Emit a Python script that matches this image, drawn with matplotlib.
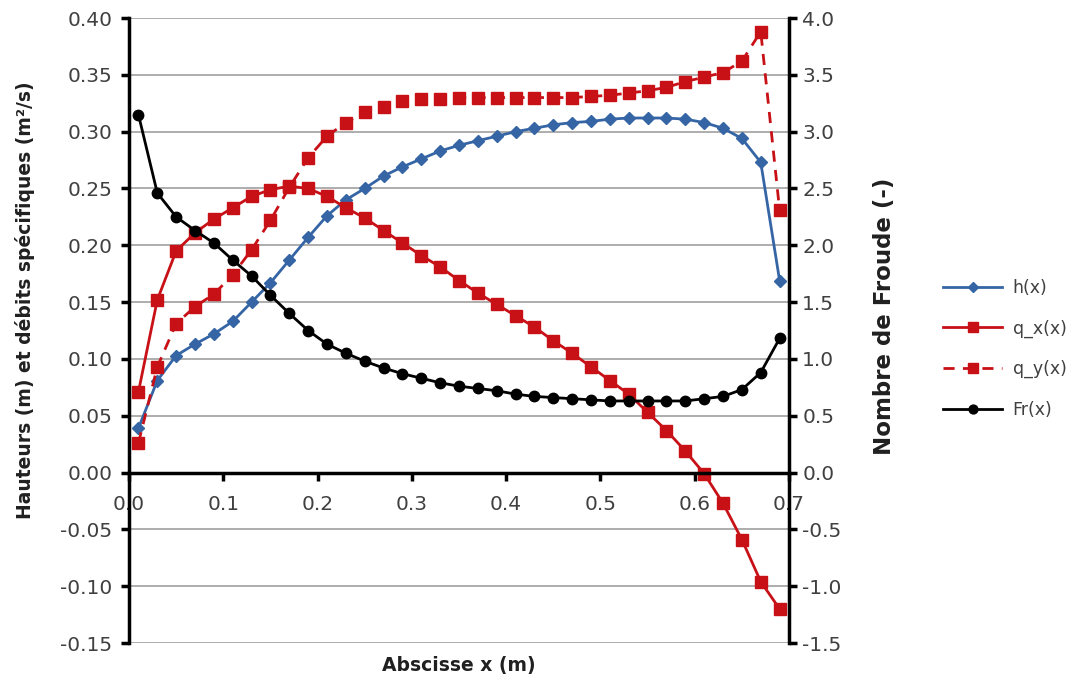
import matplotlib
matplotlib.use("Agg")
import matplotlib.pyplot as plt
import numpy as np

# abscissa of the computed points (m)
x = [0.01, 0.03, 0.05, 0.07, 0.09, 0.11, 0.13, 0.15, 0.17, 0.19, 0.21, 0.23,
     0.25, 0.27, 0.29, 0.31, 0.33, 0.35, 0.37, 0.39, 0.41, 0.43, 0.45, 0.47,
     0.49, 0.51, 0.53, 0.55, 0.57, 0.59, 0.61, 0.63, 0.65, 0.67, 0.69]

h = [0.039, 0.081, 0.103, 0.113, 0.122, 0.133, 0.150, 0.167, 0.187, 0.207,
     0.226, 0.240, 0.250, 0.261, 0.269, 0.276, 0.283, 0.288, 0.292, 0.296,
     0.300, 0.303, 0.306, 0.308, 0.309, 0.311, 0.312, 0.312, 0.312, 0.311,
     0.308, 0.303, 0.294, 0.273, 0.169]

q_x = [0.071, 0.152, 0.195, 0.211, 0.223, 0.233, 0.243, 0.249, 0.252, 0.250,
       0.243, 0.233, 0.224, 0.213, 0.202, 0.191, 0.181, 0.169, 0.158, 0.148,
       0.138, 0.128, 0.116, 0.105, 0.093, 0.081, 0.069, 0.053, 0.037, 0.019,
       -0.001, -0.027, -0.059, -0.096, -0.120]

q_y = [0.026, 0.093, 0.131, 0.146, 0.157, 0.174, 0.196, 0.222, 0.251, 0.277,
       0.296, 0.308, 0.317, 0.322, 0.327, 0.329, 0.329, 0.330, 0.330, 0.330,
       0.330, 0.330, 0.330, 0.330, 0.331, 0.332, 0.334, 0.336, 0.339, 0.344,
       0.348, 0.352, 0.362, 0.388, 0.231]

fr = [3.15, 2.46, 2.25, 2.13, 2.02, 1.87, 1.73, 1.56, 1.40, 1.25,
      1.13, 1.05, 0.98, 0.92, 0.87, 0.83, 0.79, 0.76, 0.74, 0.72,
      0.69, 0.67, 0.66, 0.65, 0.64, 0.63, 0.63, 0.63, 0.63, 0.63,
      0.65, 0.67, 0.73, 0.88, 1.18]

BLUE = "#3565a5"
RED = "#c81017"
TXT = "#404040"
plt.rcParams["font.family"] = ["DejaVu Sans"]

fig = plt.figure(figsize=(10.76, 6.8), dpi=100)
ax = fig.add_axes([0.1199, 0.0544, 0.6134, 0.9191])
ax2 = ax.twinx()

ax.plot(x, h, "-D", color=BLUE, lw=2, ms=6, label="h(x)")
ax.plot(x, q_x, "-s", color=RED, lw=2, ms=8, label="q_x(x)")
ax.plot(x, q_y, "--s", color=RED, lw=2, ms=8, dashes=(4, 3), label="q_y(x)")
ln_fr, = ax2.plot(x, fr, "-o", color="black", lw=2, ms=7.5, label="Fr(x)")

ax.set_xlim(0, 0.7)
ax.set_ylim(-0.15, 0.40)
ax2.set_ylim(-1.5, 4.0)
ax.set_xticks(np.arange(0, 0.71, 0.1))
ax.set_xticklabels([f"{v:.1f}" for v in np.arange(0, 0.71, 0.1)])
ax.set_yticks(np.arange(-0.15, 0.401, 0.05))
ax.set_yticklabels([f"{v:.2f}" for v in np.arange(-0.15, 0.401, 0.05)])
ax2.set_yticks(np.arange(-1.5, 4.01, 0.5))
ax2.set_yticklabels([f"{v:.1f}" for v in np.arange(-1.5, 4.01, 0.5)])

ax.yaxis.grid(True, color="#a0a0a0", lw=1.2)
ax.set_axisbelow(True)

for a in (ax, ax2):
    a.spines["top"].set_visible(False)
    a.tick_params(labelsize=14.5, labelcolor=TXT, width=2.5, length=6)
ax.spines["bottom"].set_position(("data", 0))
ax.spines["left"].set_linewidth(2.5)
ax.spines["bottom"].set_linewidth(2.5)
ax.spines["right"].set_visible(False)
ax2.spines["bottom"].set_visible(False)
ax2.spines["left"].set_visible(False)
ax2.spines["right"].set_linewidth(2.5)
ax.tick_params(axis="x", pad=10)
ax.tick_params(axis="y", pad=6)

ax.set_ylabel("Hauteurs (m) et débits spécifiques (m²/s)", fontsize=13.5,
              fontweight="bold", color="#202020")
ax.yaxis.set_label_coords(-0.142, 0.549)
ax2.set_ylabel("Nombre de Froude (-)", fontsize=16.5, fontweight="bold",
               color="#202020")
ax2.yaxis.set_label_coords(1.127, 0.523)
fig.text(0.426, 0.022, "Abscisse x (m)", fontsize=13.5, fontweight="bold",
         color="#202020", ha="center", va="center")

handles, labels = ax.get_legend_handles_labels()
handles.append(ln_fr)
labels.append("Fr(x)")
fig.legend(handles, labels, loc="center left", bbox_to_anchor=(0.862, 0.487),
           frameon=False, fontsize=12.5, handlelength=3.4, handletextpad=0.6,
           labelspacing=1.3, markerscale=0.85, labelcolor=TXT)

fig.savefig("out.png", dpi=100)
